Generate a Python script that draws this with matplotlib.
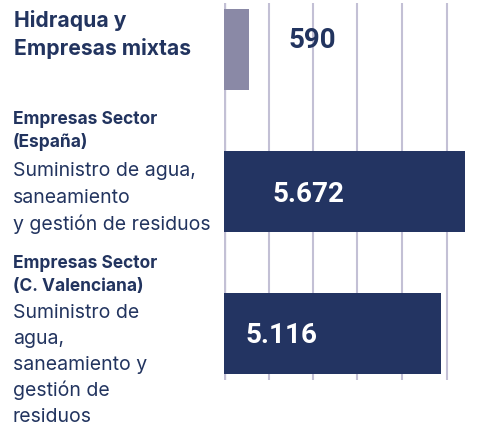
import matplotlib.pyplot as plt

# Datos
valores = [590, 5672, 5116]
etiquetas_valor = ['590', '5.672', '5.116']
colores = ['#8a89a6', '#233462', '#233462']
color_valor = ['#22345f', 'white', 'white']

titulos = [
    ['Hidraqua y', 'Empresas mixtas'],
    ['Empresas Sector', '(España)'],
    ['Empresas Sector', '(C. Valenciana)'],
]
subtitulos = [
    [],
    ['Suministro de agua,', 'saneamiento', 'y gestión de residuos'],
    ['Suministro de', 'agua,', 'saneamiento y', 'gestión de', 'residuos'],
]
rejilla = [1050, 2100, 3130, 4200, 5250]

W, H = 482, 427
azul = '#22345f'
gris_rejilla = '#c3c0d5'
plt.rcParams['font.family'] = ['Roboto', 'DejaVu Sans']
fuente_texto = ['Inter', 'DejaVu Sans']

fig = plt.figure(figsize=(W / 100, H / 100), dpi=100)
fig.patch.set_facecolor('white')
ax = fig.add_axes([224 / W, (H - 381) / H, (W - 224) / W, 377 / H])

ax.set_xlim(0, 6083)
ax.set_ylim(2.327, -0.327)

# rejilla vertical y eje cero
for g in rejilla:
    ax.axvline(g, color=gris_rejilla, lw=1.5, zorder=0)
ax.axvline(0, color=gris_rejilla, lw=2.4, zorder=0)

pos = list(range(len(valores)))
ax.barh(pos, valores, height=0.57, color=colores, zorder=2)

# etiquetas de valor
x_etiqueta = [0.341, 0.328, 0.222]
dy = [7, -1.5, -0.5]
for i, txt in enumerate(etiquetas_valor):
    ax.annotate(txt, xy=(x_etiqueta[i], pos[i]), xycoords=('axes fraction', 'data'),
                xytext=(0, dy[i]), textcoords='offset points',
                ha='center', va='center', fontsize=20, fontweight='bold',
                color=color_valor[i], zorder=3)

ax.axis('off')


def px(x, y):
    return x / W, 1 - y / H


# textos de la izquierda (posiciones de línea base en píxeles)
fig.text(*px(14, 27), titulos[0][0], fontsize=15.2, fontweight='bold',
         color=azul, family=fuente_texto)
fig.text(*px(14, 55), titulos[0][1], fontsize=15.2, fontweight='bold',
         color=azul, family=fuente_texto)

base_titulo = [None, [124, 147], [268, 291]]
base_sub = [None, [176, 203, 230], [318, 344, 370, 396, 422]]
for k in (1, 2):
    for linea, yb in zip(titulos[k], base_titulo[k]):
        fig.text(*px(13, yb), linea, fontsize=12.5, fontweight='bold',
                 color=azul, family=fuente_texto)
    for linea, yb in zip(subtitulos[k], base_sub[k]):
        fig.text(*px(13, yb), linea, fontsize=14, color=azul, family=fuente_texto)

plt.savefig('out.png', dpi=100)
plt.close()
